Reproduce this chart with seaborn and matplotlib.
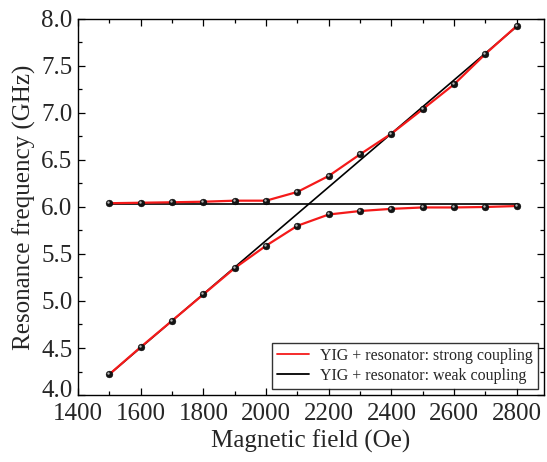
import numpy as np
import pandas as pd
import matplotlib
matplotlib.use("Agg")
import matplotlib.pyplot as plt
import matplotlib.transforms as mtransforms
from matplotlib.ticker import MultipleLocator, FormatStrFormatter
from matplotlib.lines import Line2D
import seaborn as sns

# measured data (Oe, GHz)
field = [1500, 1600, 1700, 1800, 1900, 2000, 2100, 2200, 2300, 2400, 2500, 2600, 2700, 2800]
upper_branch = [6.04, 6.045, 6.05, 6.056, 6.067, 6.067, 6.16, 6.33, 6.56, 6.78, 7.04, 7.305, 7.628, 7.926]
lower_branch = [4.22, 4.51, 4.79, 5.07, 5.35, 5.588, 5.80, 5.92, 5.957, 5.98, 5.995, 5.995, 6.0, 6.01]

# uncoupled modes (weak coupling)
weak_field = [1500, 2800]
weak_resonator = [6.035, 6.035]
weak_yig = [4.22, 7.92]

sns.set_theme(style="ticks")
plt.rcParams['font.family'] = ['Liberation Serif', 'DejaVu Serif']

df_up = pd.DataFrame({"H": field, "f": upper_branch})
df_lo = pd.DataFrame({"H": field, "f": lower_branch})
df_res = pd.DataFrame({"H": weak_field, "f": weak_resonator})
df_yig = pd.DataFrame({"H": weak_field, "f": weak_yig})

fig = plt.figure(figsize=(5.47, 4.62), dpi=100)
ax = fig.add_axes([0.1426, 0.145, 0.852, 0.814])

# weak coupling (straight uncoupled lines)
sns.lineplot(data=df_res, x="H", y="f", ax=ax, color="black", lw=1.2, zorder=2)
sns.lineplot(data=df_yig, x="H", y="f", ax=ax, color="black", lw=1.2, zorder=2)

# strong coupling branches, sphere-like markers
shine = mtransforms.offset_copy(ax.transData, fig=fig, x=-0.8, y=0.8, units="points")
for d in (df_up, df_lo):
    sns.lineplot(data=d, x="H", y="f", ax=ax, color="#f41a1a", lw=1.6, zorder=3)
    sns.scatterplot(data=d, x="H", y="f", ax=ax, color="#141414", s=24,
                    edgecolor="#000000", linewidth=0.3, zorder=4)
    sns.scatterplot(data=d, x="H", y="f", ax=ax, color="#b8b8b8", s=3,
                    linewidth=0, zorder=5, transform=shine)

ax.set_xlim(1400, 2887)
ax.set_ylim(4.0, 8.0)
ax.xaxis.set_major_locator(MultipleLocator(200))
ax.xaxis.set_minor_locator(MultipleLocator(100))
ax.yaxis.set_major_locator(MultipleLocator(0.5))
ax.yaxis.set_minor_locator(MultipleLocator(0.25))
ax.yaxis.set_major_formatter(FormatStrFormatter('%.1f'))
ax.tick_params(which="both", direction="in", top=True, right=True,
               labelsize=18, color="black", width=0.9)
ax.tick_params(which="major", length=5)
ax.tick_params(axis="x", which="major", pad=6)
ax.tick_params(axis="y", which="major", pad=4)
ax.tick_params(which="minor", length=3)
for s in ax.spines.values():
    s.set_color("black")
    s.set_linewidth(1.0)

ax.set_xlabel("Magnetic field (Oe)", fontsize=18, labelpad=3)
ax.set_ylabel("Resonance frequency (GHz)", fontsize=18, labelpad=4)

handles = [Line2D([], [], color="#f41a1a", lw=1.3),
           Line2D([], [], color="black", lw=1.3)]
leg = ax.legend(handles, ["YIG + resonator: strong coupling",
                          "YIG + resonator: weak coupling"],
                loc="lower right", fontsize=11.5, frameon=True, fancybox=False,
                edgecolor="black", borderpad=0.3, handlelength=2.0,
                labelspacing=0.25, borderaxespad=0.4, handletextpad=0.7)
leg.get_frame().set_linewidth(1.0)

# lift the bottom y label a little so it clears "1400"
fig.canvas.draw()
lift = mtransforms.ScaledTranslation(0, 5 / 72, fig.dpi_scale_trans)
for tick, loc in zip(ax.yaxis.get_major_ticks(), ax.yaxis.get_majorticklocs()):
    if abs(loc - 4.0) < 1e-9:
        tick.label1.set_transform(tick.label1.get_transform() + lift)

fig.savefig("out.png", dpi=100)
